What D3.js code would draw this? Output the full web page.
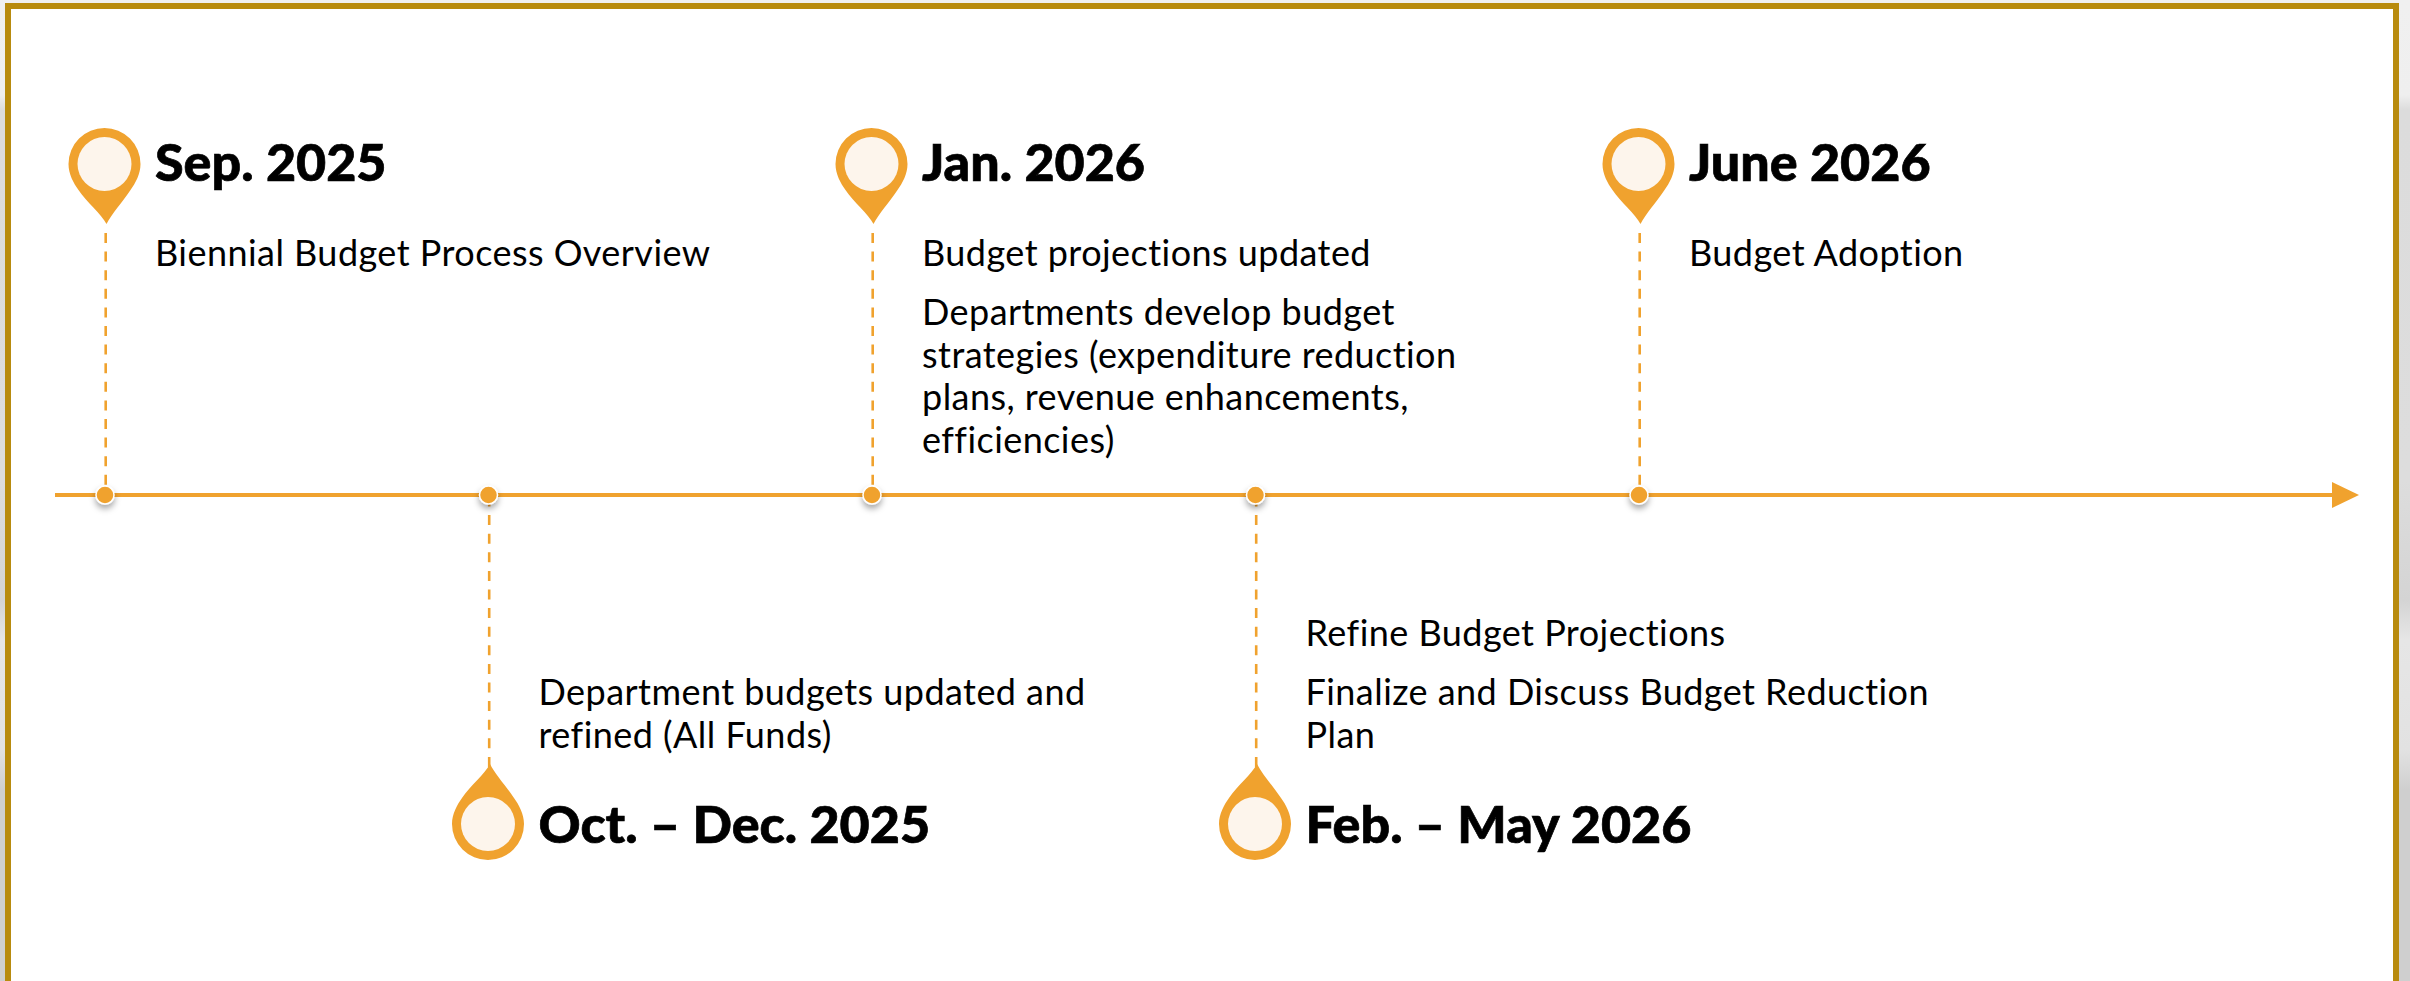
<!DOCTYPE html>
<html lang="en">
  <head>
    <meta charset="utf-8">
    <title>Biennial Budget Timeline</title>
    <script src="https://cdnjs.cloudflare.com/ajax/libs/d3/7.8.5/d3.min.js"></script>
    <style>
      html, body { margin: 0; padding: 0; overflow: hidden; height: 100%; }
      body { background: linear-gradient(to bottom, #f0f0f0 0px, #efefef 95px, #dcdcdc 110px, #dddddd 480px, #d4d4d4 600px, #e6e6e6 640px, #e2e2e2 750px, #cfcfcf 790px, #cfcfcf 981px); }
      svg { display: block; }
      .date { font-family: "Lato"; font-weight: 900; font-size: 52px; fill: #000; stroke: #000; stroke-width: 0.7px; }
      .note { font-family: "Lato"; font-size: 36px; letter-spacing: 0.45px; fill: #000; }
    </style>
  </head>
  <body>
    <div id="graph"></div>

    <script type="text/javascript">
    const eventDates = ["Sep. 2025", "Oct. – Dec. 2025", "Jan. 2026", "Feb. – May 2026", "June 2026"];
    const eventSides = ["above", "below", "above", "below", "above"];
    const eventNotes = [
      [["Biennial Budget Process Overview"]],
      [["Department budgets updated and", "refined (All Funds)"]],
      [["Budget projections updated"],
       ["Departments develop budget", "strategies (expenditure reduction", "plans, revenue enhancements,", "efficiencies)"]],
      [["Refine Budget Projections"],
       ["Finalize and Discuss Budget Reduction", "Plan"]],
      [["Budget Adoption"]]
    ];

    const w = 2410, h = 981;
    const orange = "#f0a22e";
    const axisY = 495;

    const svg = d3.select("#graph").append("svg")
      .attr("width", w)
      .attr("height", h);

    const x = d3.scalePoint()
      .domain(eventDates)
      .range([105, 1639]);

    // soft shadow under the dots on the line
    const shadow = svg.append("defs").append("filter")
      .attr("id", "dotShadow")
      .attr("x", "-60%").attr("y", "-60%")
      .attr("width", "220%").attr("height", "240%");
    shadow.append("feDropShadow")
      .attr("dx", 0).attr("dy", 4)
      .attr("stdDeviation", 3)
      .attr("flood-color", "#000")
      .attr("flood-opacity", 0.35);

    // panel with the gold frame
    svg.append("rect")
      .attr("x", 8).attr("y", 6)
      .attr("width", 2388).attr("height", h + 20)
      .attr("fill", "#fff")
      .attr("stroke", "#b88b0e")
      .attr("stroke-width", 6);

    // time line with arrow head
    const axisEnd = 2332;
    svg.append("line")
      .attr("x1", 55).attr("x2", axisEnd)
      .attr("y1", axisY).attr("y2", axisY)
      .attr("stroke", orange)
      .attr("stroke-width", 4);
    svg.append("path")
      .attr("d", d3.line()([[axisEnd, axisY - 13], [axisEnd + 27, axisY], [axisEnd, axisY + 13]]) + "Z")
      .attr("fill", orange);

    const pinPath = "M-36,0 A36,36 0 0 1 36,0 C36,10 31,19 26,26 C18,38 7,50 2,60 C-3,50 -18,38 -26,26 C-31,19 -36,10 -36,0 Z";

    const events = svg.selectAll(".event")
      .data(eventDates)
      .enter()
      .append("g")
      .attr("class", "event");

    // dashed stems, drawn first so the dots sit on top
    events.append("line")
      .attr("x1", d => x(d) + 0.7)
      .attr("x2", d => x(d) + 0.7)
      .attr("y1", (d, i) => eventSides[i] == "above" ? 233 : axisY + 1.5)
      .attr("y2", (d, i) => eventSides[i] == "above" ? axisY - 8 : 768)
      .attr("stroke", orange)
      .attr("stroke-width", 2.6)
      .attr("stroke-dasharray", "10,8.6");

    events.append("circle")
      .attr("cx", d => x(d))
      .attr("cy", axisY)
      .attr("r", 9)
      .attr("fill", orange)
      .attr("stroke", "#fff")
      .attr("stroke-width", 1.5)
      .attr("filter", "url(#dotShadow)");

    const pins = events.append("g")
      .attr("transform", (d, i) => eventSides[i] == "above"
        ? "translate(" + (x(d) - 0.5) + ",164)"
        : "translate(" + (x(d) - 0.5) + ",824) scale(1,-1)");
    pins.append("path")
      .attr("d", pinPath)
      .attr("fill", orange);
    pins.append("circle")
      .attr("r", 27)
      .attr("fill", "#fdf5ec");

    // date headings
    events.append("text")
      .attr("class", "date")
      .attr("x", d => x(d) + 50)
      .attr("y", (d, i) => eventSides[i] == "above" ? 181 : 843)
      .text(d => d);

    // note text, paragraphs get a bit more room than wrapped lines
    const lineGap = 42.5, paraGap = 59;
    events.each(function(d, i) {
      const g = d3.select(this);
      const paras = eventNotes[i];
      const rows = [];
      let y = 0;
      paras.forEach((lines, p) => {
        lines.forEach((line, l) => {
          if (l > 0) y += lineGap;
          else if (p > 0) y += paraGap;
          rows.push({ line: line, y: y });
        });
      });
      // above: hang down from the first line, below: sit on the last line
      const start = eventSides[i] == "above" ? 266 : 747.5 - y;
      g.selectAll(".note")
        .data(rows)
        .enter()
        .append("text")
        .attr("class", "note")
        .attr("x", x(d) + 50)
        .attr("y", r => start + r.y)
        .text(r => r.line);
    });
    </script>
  </body>
</html>
